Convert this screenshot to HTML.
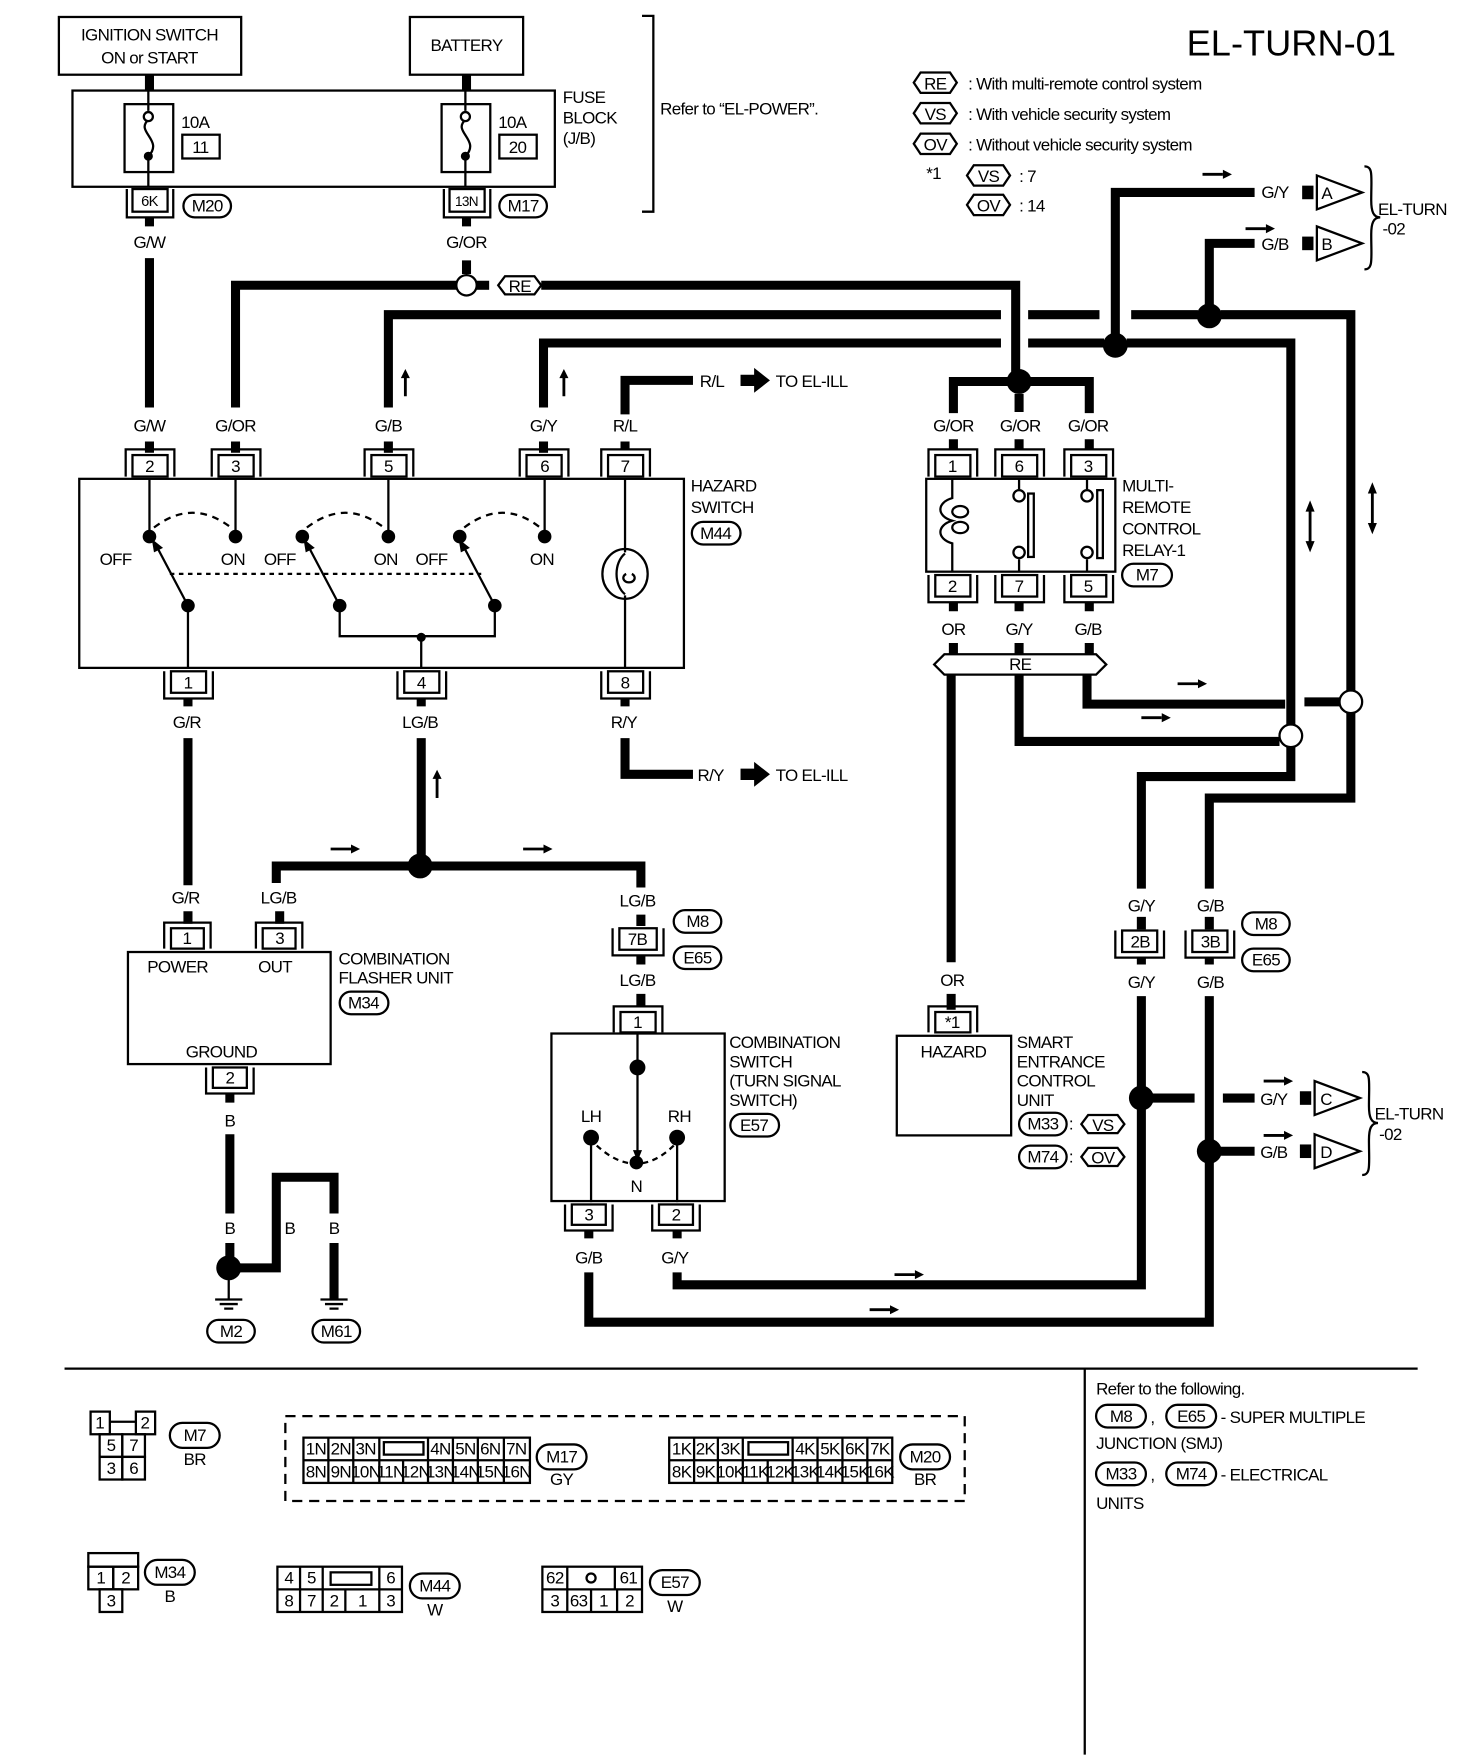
<!DOCTYPE html>
<html><head><meta charset="utf-8"><style>
html,body{margin:0;padding:0;background:#fff}
svg{display:block}
text{font-family:"Liberation Sans",Arial,sans-serif;font-size:15px;fill:#000;letter-spacing:-0.6px}
.w{stroke:#000;stroke-width:8;fill:none}
.t{stroke:#000;stroke-width:2;fill:none}
.m{text-anchor:middle}
</style></head><body>
<svg width="1472" height="1758" viewBox="0 0 1300 1553" preserveAspectRatio="none" xmlns="http://www.w3.org/2000/svg">
<rect class="t" x="52" y="15" width="161" height="51"/>
<text x="132" y="36" class="m">IGNITION SWITCH</text><text x="132" y="56" class="m">ON or START</text>
<rect class="t" x="362" y="15" width="100" height="51"/>
<text x="412" y="45" class="m">BATTERY</text>
<path class="w" d="M132 66V80M412 66V80"/>
<rect class="t" x="64" y="80" width="426" height="85"/>
<rect class="t" x="110" y="92" width="43" height="60"/><rect class="t" x="390" y="92" width="43" height="60"/>
<path class="t" d="M131 80V98M131 138V165M131 106c-12 10 14 18 0 32M411 80V98M411 138V165M411 106c-12 10 14 18 0 32"/>
<circle cx="131" cy="103" r="4" fill="#fff" stroke="#000" stroke-width="2"/><circle cx="131" cy="138" r="4"/>
<circle cx="411" cy="103" r="4" fill="#fff" stroke="#000" stroke-width="2"/><circle cx="411" cy="138" r="4"/>
<text x="160" y="113">10A</text><rect class="t" x="161" y="119" width="33" height="21"/><text x="177" y="135" class="m">11</text>
<text x="440" y="113">10A</text><rect class="t" x="441" y="119" width="33" height="21"/><text x="457" y="135" class="m">20</text>
<text x="497" y="91">FUSE</text><text x="497" y="109">BLOCK</text><text x="497" y="127">(J/B)</text>
<path class="t" d="M567 14H577V187H567"/>
<text x="583" y="101">Refer to “EL-POWER”.</text>
<text x="1048" y="49" style="font-size:32px;letter-spacing:0">EL-TURN-01</text>
<rect class="t" x="117" y="167" width="31" height="20"/><text x="132" y="182" class="m" style="font-size:13px">6K</text>
<path class="t" d="M112 167V192H153V167"/>
<rect class="t" x="162" y="172" width="42" height="20" rx="10"/><text x="183" y="187" class="m">M20</text>
<rect class="t" x="397" y="167" width="31" height="20"/><text x="412" y="182" class="m" style="font-size:12px">13N</text>
<path class="t" d="M392 167V192H433V167"/>
<rect class="t" x="441" y="172" width="42" height="20" rx="10"/><text x="462" y="187" class="m">M17</text>
<g>
<path class="t" d="M813 64h26l6 9-6 9h-26l-6-9z"/><text x="826" y="79" class="m">RE</text><text x="855" y="79">: With multi-remote control system</text>
<path class="t" d="M813 91h26l6 9-6 9h-26l-6-9z"/><text x="826" y="106" class="m">VS</text><text x="855" y="106">: With vehicle security system</text>
<path class="t" d="M813 118h26l6 9-6 9h-26l-6-9z"/><text x="826" y="133" class="m">OV</text><text x="855" y="133">: Without vehicle security system</text>
<text x="818" y="158">*1</text>
<path class="t" d="M860 146h26l6 9-6 9h-26l-6-9z"/><text x="873" y="161" class="m">VS</text><text x="900" y="161">: 7</text>
<path class="t" d="M860 172h26l6 9-6 9h-26l-6-9z"/><text x="873" y="187" class="m">OV</text><text x="900" y="187">: 14</text>
</g>
<path class="w" d="M132 192V200M132 228V360M132 390V400"/>
<text x="132" y="219" class="m">G/W</text><text x="132" y="381" class="m">G/W</text>
<path class="w" d="M412 192V200M412 230V242M403 252H208V360M208 390V400"/>
<text x="412" y="219" class="m">G/OR</text><text x="208" y="381" class="m">G/OR</text>
<circle cx="412" cy="252" r="9" fill="#fff" stroke="#000" stroke-width="2"/>
<path class="w" d="M421 252H432"/>
<path class="t" d="M446 244h26l6 8-6 8h-26l-6-8z"/><text x="459" y="258" class="m">RE</text>
<path class="w" d="M478 252H897V330"/>
<path class="w" d="M343 360V278H884M908 278H971M999 278H1058M1078 278H1193V610M1193 630V705H1068V785"/>
<text x="343" y="381" class="m">G/B</text><path class="w" d="M343 390V400"/>
<path class="w" d="M480 360V303H884M908 303H975M995 303H1140V640M1140 660V686H1008V785"/>
<text x="480" y="381" class="m">G/Y</text><path class="w" d="M480 390V400"/>
<circle cx="985" cy="305" r="11"/><circle cx="1068" cy="279" r="11"/>
<path class="w" d="M985 300V170H1108M1068 275V215H1108"/>
<text x="1114" y="175">G/Y</text><text x="1114" y="221">G/B</text>
<rect x="1150" y="164" width="10" height="12"/><rect x="1150" y="209" width="10" height="12"/>
<path class="t" d="M1163 155V185L1203 170ZM1163 200V230L1203 215Z"/><text x="1167" y="176">A</text><text x="1167" y="221">B</text>
<path class="t" d="M1205 147c8 0 6 8 6 30c0 10 2 15 8 15c-6 0-8 5-8 15c0 22 2 31-6 31"/>
<text x="1217" y="190">EL-TURN</text><text x="1221" y="207">-02</text>
<path d="M1062 154h18M1100 202h18" stroke="#000" stroke-width="2.5"/><path d="M1080 150l8 4-8 4zM1118 198l8 4-8 4z"/>
<path d="M358 350V332M498 350V332M386 705V686" stroke="#000" stroke-width="2.5"/>
<path d="M354 334l4-8 4 8zM494 334l4-8 4 8zM382 688l4-8 4 8z"/>
<path class="w" d="M552 366V336H612M552 390V398"/>
<text x="618" y="342">R/L</text><path d="M654 331h12v-6l14 11-14 11v-6h-12z"/><text x="685" y="342">TO EL-ILL</text>
<text x="552" y="381" class="m">R/L</text>
<rect class="t" x="70" y="423" width="534" height="167"/>
<g>
<rect class="t" x="117" y="402" width="31" height="19"/><text x="132" y="417" class="m">2</text><path class="t" d="M111 421V397H154V421"/>
<rect class="t" x="193" y="402" width="31" height="19"/><text x="208" y="417" class="m">3</text><path class="t" d="M187 421V397H230V421"/>
<rect class="t" x="328" y="402" width="31" height="19"/><text x="343" y="417" class="m">5</text><path class="t" d="M322 421V397H365V421"/>
<rect class="t" x="465" y="402" width="31" height="19"/><text x="481" y="417" class="m">6</text><path class="t" d="M459 421V397H502V421"/>
<rect class="t" x="537" y="402" width="31" height="19"/><text x="552" y="417" class="m">7</text><path class="t" d="M531 421V397H574V421"/>
<rect class="t" x="151" y="593" width="31" height="19"/><text x="166" y="608" class="m">1</text><path class="t" d="M145 593V617H188V593"/>
<rect class="t" x="357" y="593" width="31" height="19"/><text x="372" y="608" class="m">4</text><path class="t" d="M351 593V617H394V593"/>
<rect class="t" x="537" y="593" width="31" height="19"/><text x="552" y="608" class="m">8</text><path class="t" d="M531 593V617H574V593"/>
</g>
<path class="t" d="M132 423V474M208 423V474M343 423V474M481 423V474M166 535V590M300 535V562H437V535M372 562V590M552 423V488M552 526V590"/>
<circle cx="132" cy="474" r="6"/><circle cx="208" cy="474" r="6"/><circle cx="267" cy="474" r="6"/><circle cx="343" cy="474" r="6"/><circle cx="406" cy="474" r="6"/><circle cx="481" cy="474" r="6"/>
<circle cx="166" cy="535" r="6"/><circle cx="300" cy="535" r="6"/><circle cx="437" cy="535" r="6"/><circle cx="372" cy="563" r="4"/>
<path class="t" stroke-dasharray="6 5" d="M136 466Q170 440 204 466M271 466Q305 440 339 466M410 466Q444 440 477 466"/>
<path class="t" stroke-dasharray="4 4" d="M150 507H425"/>
<path class="t" d="M166 535L138 482M300 535L272 482M437 535L409 482"/>
<path d="M134 476l2 12 8-4zM268 476l2 12 8-4zM405 476l2 12 8-4z"/>
<text x="88" y="499">OFF</text><text x="195" y="499">ON</text><text x="233" y="499">OFF</text><text x="330" y="499">ON</text><text x="367" y="499">OFF</text><text x="468" y="499">ON</text>
<ellipse class="t" cx="552" cy="507" rx="20" ry="22"/><path class="t" d="M552 489c-10 8-10 28 0 36M553 507a5 4 0 1 0 5 0"/>
<text x="610" y="434">HAZARD</text><text x="610" y="453">SWITCH</text>
<rect class="t" x="611" y="461" width="43" height="20" rx="10"/><text x="632" y="476" class="m">M44</text>
<path class="w" d="M166 617V624M166 652V782M372 617V624M372 652V760M552 617V624M552 652V684H612"/>
<text x="165" y="643" class="m">G/R</text><text x="371" y="643" class="m">LG/B</text><text x="551" y="643" class="m">R/Y</text>
<text x="616" y="690">R/Y</text>
<path d="M654 679h12v-6l14 11-14 11v-6h-12z"/><text x="685" y="690">TO EL-ILL</text>
<circle cx="371" cy="765" r="11"/>
<path class="w" d="M244 780V765H566V784"/>
<path d="M292 750h18M462 750h18" stroke="#000" stroke-width="2.5"/><path d="M310 746l8 4-8 4zM480 746l8 4-8 4z"/>
<text x="164" y="798" class="m">G/R</text><text x="246" y="798" class="m">LG/B</text><text x="563" y="801" class="m">LG/B</text>
<path class="w" d="M166 805V816M247 805V816M566 808V818"/>
<rect class="t" x="151" y="820" width="29" height="18"/><text x="165" y="834" class="m">1</text><path class="t" d="M145 838V815H186V838"/>
<rect class="t" x="232" y="820" width="29" height="18"/><text x="247" y="834" class="m">3</text><path class="t" d="M226 838V815H267V838"/>
<rect class="t" x="113" y="841" width="179" height="99"/>
<text x="130" y="859">POWER</text><text x="228" y="859">OUT</text><text x="164" y="934">GROUND</text>
<text x="299" y="852">COMBINATION</text><text x="299" y="869">FLASHER UNIT</text>
<rect class="t" x="300" y="876" width="43" height="20" rx="10"/><text x="321" y="891" class="m">M34</text>
<rect class="t" x="188" y="943" width="30" height="18"/><text x="203" y="957" class="m">2</text><path class="t" d="M182 943V966H224V943"/>
<path class="w" d="M203 966V974M203 1002V1072M203 1098V1112"/>
<text x="203" y="995" class="m">B</text><text x="203" y="1090" class="m">B</text>
<circle cx="202" cy="1120" r="11"/>
<path class="w" d="M210 1120H244V1040H295V1072M295 1098V1148"/>
<text x="256" y="1090" class="m">B</text><text x="295" y="1090" class="m">B</text>
<path class="t" d="M202 1120V1148M190 1148H214M194 1152H210M198 1156H206M283 1148H307M287 1152H303M291 1156H299"/>
<rect class="t" x="183" y="1166" width="42" height="20" rx="10"/><text x="204" y="1181" class="m">M2</text>
<rect class="t" x="276" y="1166" width="42" height="20" rx="10"/><text x="297" y="1181" class="m">M61</text>
<rect class="t" x="547" y="820" width="33" height="19"/><text x="563" y="835" class="m">7B</text><path class="t" d="M541 820V844H586V820"/>
<rect class="t" x="595" y="804" width="42" height="20" rx="10"/><text x="616" y="819" class="m">M8</text>
<rect class="t" x="595" y="836" width="42" height="20" rx="10"/><text x="616" y="851" class="m">E65</text>
<text x="563" y="871" class="m">LG/B</text>
<path class="w" d="M566 844V852M566 878V890"/>
<rect class="t" x="548" y="894" width="31" height="18"/><text x="563" y="908" class="m">1</text><path class="t" d="M542 912V889H585V912"/>
<rect class="t" x="487" y="913" width="153" height="148"/>
<path class="t" d="M563 913V1020M522 1005V1062M598 1005V1062"/>
<path d="M559 1016l4 10 4-10z"/>
<circle cx="563" cy="943" r="7"/><circle cx="522" cy="1005" r="7"/><circle cx="598" cy="1005" r="7"/><circle cx="562" cy="1027" r="6"/>
<path class="t" stroke-dasharray="5 4" d="M527 1012Q562 1044 595 1012"/>
<text x="522" y="991" class="m">LH</text><text x="600" y="991" class="m">RH</text><text x="562" y="1053" class="m">N</text>
<text x="644" y="926">COMBINATION</text><text x="644" y="943">SWITCH</text><text x="644" y="960">(TURN SIGNAL</text><text x="644" y="977">SWITCH)</text>
<rect class="t" x="645" y="984" width="43" height="20" rx="10"/><text x="666" y="999" class="m">E57</text>
<rect class="t" x="505" y="1064" width="30" height="18"/><text x="520" y="1078" class="m">3</text><path class="t" d="M499 1064V1087H541V1064"/>
<rect class="t" x="582" y="1064" width="30" height="18"/><text x="597" y="1078" class="m">2</text><path class="t" d="M576 1064V1087H618V1064"/>
<text x="520" y="1116" class="m">G/B</text><text x="596" y="1116" class="m">G/Y</text>
<path class="w" d="M520 1087V1094M520 1124V1168H1068V880M598 1087V1094M598 1124V1135H1008V880"/>
<path d="M790 1126h18M768 1157h18" stroke="#000" stroke-width="2.5"/><path d="M808 1122l8 4-8 4zM786 1153l8 4-8 4z"/>
<circle cx="900" cy="337" r="11"/>
<path class="w" d="M890 337H842V365M910 337H962V365M900 348V364M842 388V398M900 388V398M962 388V398"/>
<text x="842" y="381" class="m">G/OR</text><text x="901" y="381" class="m">G/OR</text><text x="961" y="381" class="m">G/OR</text>
<rect class="t" x="826" y="402" width="31" height="19"/><text x="841" y="417" class="m">1</text><path class="t" d="M820 421V397H863V421"/>
<rect class="t" x="885" y="402" width="31" height="19"/><text x="900" y="417" class="m">6</text><path class="t" d="M879 421V397H922V421"/>
<rect class="t" x="946" y="402" width="31" height="19"/><text x="961" y="417" class="m">3</text><path class="t" d="M940 421V397H983V421"/>
<rect class="t" x="818" y="423" width="167" height="82"/>
<path class="t" d="M841 423V440c-14 4-14 16 0 20c-14 4-14 16 0 20V505M900 423V432M900 494V505M960 423V432M960 494V505"/>
<ellipse class="t" cx="848" cy="452" rx="7" ry="5"/><ellipse class="t" cx="848" cy="466" rx="7" ry="5"/>
<circle cx="900" cy="438" r="5" fill="#fff" stroke="#000" stroke-width="2"/><circle cx="900" cy="488" r="5" fill="#fff" stroke="#000" stroke-width="2"/>
<circle cx="960" cy="438" r="5" fill="#fff" stroke="#000" stroke-width="2"/><circle cx="960" cy="488" r="5" fill="#fff" stroke="#000" stroke-width="2"/>
<rect class="t" x="908" y="436" width="5" height="56"/><rect class="t" x="969" y="433" width="5" height="60"/>
<rect class="t" x="826" y="508" width="31" height="19"/><text x="841" y="523" class="m">2</text><path class="t" d="M820 508V532H863V508"/>
<rect class="t" x="885" y="508" width="31" height="19"/><text x="900" y="523" class="m">7</text><path class="t" d="M879 508V532H922V508"/>
<rect class="t" x="946" y="508" width="31" height="19"/><text x="961" y="523" class="m">5</text><path class="t" d="M940 508V532H983V508"/>
<text x="991" y="434">MULTI-</text><text x="991" y="453">REMOTE</text><text x="991" y="472">CONTROL</text><text x="991" y="491">RELAY-1</text>
<rect class="t" x="991" y="498" width="44" height="20" rx="10"/><text x="1013" y="513" class="m">M7</text>
<path class="w" d="M842 532V540M900 532V540M962 532V540M842 568V578M900 568V578M962 568V578"/>
<text x="842" y="561" class="m">OR</text><text x="900" y="561" class="m">G/Y</text><text x="961" y="561" class="m">G/B</text>
<path class="t" d="M834 578H968L977 587L968 596H834L825 587Z"/><text x="901" y="592" class="m">RE</text>
<path class="w" d="M840 596V850M900 596V655H1130M960 596V622H1135M1152 620H1183"/>
<circle cx="1140" cy="650" r="10" fill="#fff" stroke="#000" stroke-width="2"/>
<circle cx="1193" cy="620" r="10" fill="#fff" stroke="#000" stroke-width="2"/>
<path d="M1008 634h18M1040 604h18" stroke="#000" stroke-width="2.5"/><path d="M1026 630l8 4-8 4zM1058 600l8 4-8 4z"/>
<path d="M1157 446V484M1212 430V468" stroke="#000" stroke-width="2.5"/>
<path d="M1153 452l4-10 4 10zM1153 478l4 10 4-10zM1208 436l4-10 4 10zM1208 462l4 10 4-10z"/>
<text x="1008" y="805" class="m">G/Y</text><text x="1069" y="805" class="m">G/B</text>
<path class="w" d="M1008 810V821M1068 810V821"/>
<rect class="t" x="991" y="822" width="31" height="19"/><text x="1007" y="837" class="m">2B</text><path class="t" d="M985 822V846H1028V822"/>
<rect class="t" x="1053" y="822" width="31" height="19"/><text x="1069" y="837" class="m">3B</text><path class="t" d="M1047 822V846H1090V822"/>
<rect class="t" x="1097" y="806" width="42" height="20" rx="10"/><text x="1118" y="821" class="m">M8</text>
<rect class="t" x="1097" y="838" width="42" height="20" rx="10"/><text x="1118" y="853" class="m">E65</text>
<text x="1008" y="873" class="m">G/Y</text><text x="1069" y="873" class="m">G/B</text>
<path class="w" d="M1008 846V852M1068 846V852"/>
<text x="841" y="871" class="m">OR</text>
<path class="w" d="M840 878V892"/>
<rect class="t" x="826" y="894" width="31" height="18"/><text x="841" y="908" class="m">*1</text><path class="t" d="M820 912V889H863V912"/>
<rect class="t" x="792" y="915" width="101" height="88"/>
<text x="842" y="934" class="m">HAZARD</text>
<text x="898" y="926">SMART</text><text x="898" y="943">ENTRANCE</text><text x="898" y="960">CONTROL</text><text x="898" y="977">UNIT</text>
<rect class="t" x="900" y="983" width="42" height="20" rx="10"/><text x="921" y="998" class="m">M33</text><text x="944" y="998">:</text>
<path class="t" d="M961 985h26l6 8-6 8h-26l-6-8z"/><text x="974" y="999" class="m">VS</text>
<rect class="t" x="900" y="1012" width="42" height="20" rx="10"/><text x="921" y="1027" class="m">M74</text><text x="944" y="1027">:</text>
<path class="t" d="M961 1014h26l6 8-6 8h-26l-6-8z"/><text x="974" y="1028" class="m">OV</text>
<circle cx="1008" cy="970" r="11"/><circle cx="1068" cy="1017" r="11"/>
<path class="w" d="M1018 970H1055M1080 970H1108M1078 1017H1108"/>
<text x="1113" y="976">G/Y</text><text x="1113" y="1023">G/B</text>
<rect x="1148" y="964" width="10" height="12"/><rect x="1148" y="1011" width="10" height="12"/>
<path class="t" d="M1161 955V985L1201 970ZM1161 1002V1032L1201 1017Z"/><text x="1166" y="976">C</text><text x="1166" y="1023">D</text>
<path class="t" d="M1203 947c8 0 6 8 6 30c0 10 2 15 8 15c-6 0-8 5-8 15c0 22 2 31-6 31"/>
<text x="1214" y="989">EL-TURN</text><text x="1218" y="1007">-02</text>
<path d="M1116 955h18M1116 1003h18" stroke="#000" stroke-width="2.5"/><path d="M1134 951l8 4-8 4zM1134 999l8 4-8 4z"/>
<path class="t" d="M57 1209H1252M958 1209V1550"/>
<text x="968" y="1232">Refer to the following.</text>
<rect class="t" x="968" y="1241" width="44" height="20" rx="10"/><text x="990" y="1256" class="m">M8</text><text x="1016" y="1257">,</text>
<rect class="t" x="1030" y="1241" width="44" height="20" rx="10"/><text x="1052" y="1256" class="m">E65</text><text x="1078" y="1257">- SUPER MULTIPLE</text>
<text x="968" y="1280">JUNCTION (SMJ)</text>
<rect class="t" x="968" y="1292" width="44" height="20" rx="10"/><text x="990" y="1307" class="m">M33</text><text x="1016" y="1308">,</text>
<rect class="t" x="1030" y="1292" width="44" height="20" rx="10"/><text x="1052" y="1307" class="m">M74</text><text x="1078" y="1308">- ELECTRICAL</text>
<text x="968" y="1333">UNITS</text>
<g style="font-size:13px">
<rect class="t" x="80" y="1247" width="17" height="20"/><text x="88" y="1262" class="m">1</text>
<rect class="t" x="120" y="1247" width="17" height="20"/><text x="128" y="1262" class="m">2</text>
<path class="t" d="M97 1256H120"/>
<rect class="t" x="88" y="1267" width="20" height="20"/><text x="98" y="1282" class="m">5</text>
<rect class="t" x="108" y="1267" width="20" height="20"/><text x="118" y="1282" class="m">7</text>
<rect class="t" x="88" y="1287" width="20" height="20"/><text x="98" y="1302" class="m">3</text>
<rect class="t" x="108" y="1287" width="20" height="20"/><text x="118" y="1302" class="m">6</text>
</g>
<rect class="t" x="150" y="1257" width="44" height="22" rx="11"/><text x="172" y="1273" class="m">M7</text><text x="172" y="1294" class="m">BR</text>
<path class="t" stroke-dasharray="9 6" d="M252 1251H852V1326H252Z"/>
<g style="font-size:11px;letter-spacing:-1px">
<rect class="t" x="268" y="1270" width="200" height="40"/>
<path class="t" d="M268 1290H468M290 1270V1310M312 1270V1310M335 1270V1290M378 1270V1310M400 1270V1310M422 1270V1310M445 1270V1310M335 1290V1310M356 1290V1310"/>
<rect class="t" x="339" y="1274" width="35" height="11"/>
<text x="279" y="1285" class="m">1N</text><text x="301" y="1285" class="m">2N</text><text x="323" y="1285" class="m">3N</text><text x="389" y="1285" class="m">4N</text><text x="411" y="1285" class="m">5N</text><text x="433" y="1285" class="m">6N</text><text x="456" y="1285" class="m">7N</text>
<text x="279" y="1305" class="m">8N</text><text x="301" y="1305" class="m">9N</text><text x="323" y="1305" class="m">10N</text><text x="345" y="1305" class="m">11N</text><text x="367" y="1305" class="m">12N</text><text x="389" y="1305" class="m">13N</text><text x="411" y="1305" class="m">14N</text><text x="433" y="1305" class="m">15N</text><text x="456" y="1305" class="m">16N</text>
<rect class="t" x="591" y="1270" width="197" height="40"/>
<path class="t" d="M591 1290H788M613 1270V1310M634 1270V1310M656 1270V1290M700 1270V1310M722 1270V1310M744 1270V1310M766 1270V1310M656 1290V1310M678 1290V1310"/>
<rect class="t" x="661" y="1274" width="35" height="11"/>
<text x="602" y="1285" class="m">1K</text><text x="623" y="1285" class="m">2K</text><text x="645" y="1285" class="m">3K</text><text x="711" y="1285" class="m">4K</text><text x="733" y="1285" class="m">5K</text><text x="755" y="1285" class="m">6K</text><text x="777" y="1285" class="m">7K</text>
<text x="602" y="1305" class="m">8K</text><text x="623" y="1305" class="m">9K</text><text x="645" y="1305" class="m">10K</text><text x="667" y="1305" class="m">11K</text><text x="689" y="1305" class="m">12K</text><text x="711" y="1305" class="m">13K</text><text x="733" y="1305" class="m">14K</text><text x="755" y="1305" class="m">15K</text><text x="777" y="1305" class="m">16K</text>
</g>
<rect class="t" x="474" y="1276" width="44" height="22" rx="11"/><text x="496" y="1292" class="m">M17</text><text x="496" y="1312" class="m">GY</text>
<rect class="t" x="795" y="1276" width="44" height="22" rx="11"/><text x="817" y="1292" class="m">M20</text><text x="817" y="1312" class="m">BR</text>
<g style="font-size:13px">
<rect class="t" x="78" y="1372" width="44" height="12"/>
<rect class="t" x="78" y="1384" width="22" height="20"/><text x="89" y="1399" class="m">1</text>
<rect class="t" x="100" y="1384" width="22" height="20"/><text x="111" y="1399" class="m">2</text>
<rect class="t" x="88" y="1404" width="20" height="20"/><text x="98" y="1419" class="m">3</text>
<rect class="t" x="245" y="1384" width="110" height="40"/>
<path class="t" d="M245 1404H355M265 1384V1424M285 1384V1424M335 1384V1424M305 1404V1424"/>
<rect class="t" x="292" y="1389" width="36" height="11"/>
<text x="255" y="1399" class="m">4</text><text x="275" y="1399" class="m">5</text><text x="345" y="1399" class="m">6</text>
<text x="255" y="1419" class="m">8</text><text x="275" y="1419" class="m">7</text><text x="295" y="1419" class="m">2</text><text x="320" y="1419" class="m">1</text><text x="345" y="1419" class="m">3</text>
<rect class="t" x="479" y="1384" width="88" height="40"/>
<path class="t" d="M479 1404H567M501 1384V1424M543 1384V1404M522 1404V1424M545 1404V1424"/>
<circle cx="522" cy="1394" r="4" fill="none" stroke="#000" stroke-width="2"/>
<text x="490" y="1399" class="m">62</text><text x="555" y="1399" class="m">61</text>
<text x="490" y="1419" class="m">3</text><text x="511" y="1419" class="m">63</text><text x="533" y="1419" class="m">1</text><text x="556" y="1419" class="m">2</text>
</g>
<rect class="t" x="128" y="1378" width="44" height="22" rx="11"/><text x="150" y="1394" class="m">M34</text><text x="150" y="1415" class="m">B</text>
<rect class="t" x="362" y="1390" width="44" height="22" rx="11"/><text x="384" y="1406" class="m">M44</text><text x="384" y="1427" class="m">W</text>
<rect class="t" x="574" y="1387" width="44" height="22" rx="11"/><text x="596" y="1403" class="m">E57</text><text x="596" y="1424" class="m">W</text>
</svg>
</body></html>
